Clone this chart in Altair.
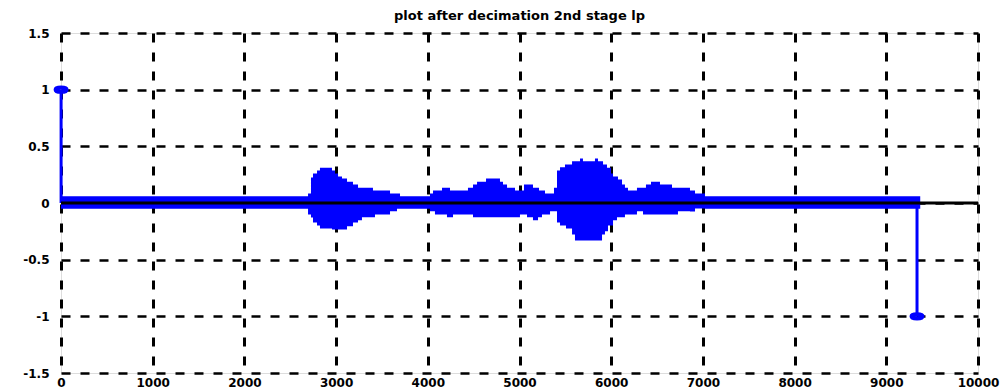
import altair as alt
import pandas as pd

# Peak envelope of the decimated signal (stem extent incl. markers), step-wise
env_x = [0, 2694, 2726, 2748, 2792, 2824, 2955, 2988, 3021, 3064, 3119, 3184, 3239,
         3282, 3402, 3424, 3588, 3664, 3697,
         4024, 4057, 4078, 4155, 4209, 4242, 4275, 4438, 4493, 4537, 4635, 4787,
         4820, 4864, 4951, 5005, 5049, 5082, 5147, 5202, 5213, 5245, 5278, 5333,
         5376, 5409, 5442, 5496, 5507, 5573, 5605, 5660, 5692, 5823, 5856, 5900,
         5911, 5932, 5954, 5965, 5998, 6020, 6063, 6074, 6118, 6150, 6183, 6281,
         6347, 6379, 6434, 6532, 6663, 6728, 6859, 6914, 6936, 7023, 9370]
env_hi = [0.06, 0.084, 0.225, 0.26, 0.287, 0.31, 0.287, 0.26, 0.234, 0.216, 0.187, 0.163, 0.134,
          0.134, 0.11, 0.11, 0.084, 0.084, 0.06,
          0.084, 0.11, 0.11, 0.134, 0.134, 0.11, 0.11, 0.134, 0.163, 0.187, 0.216, 0.187,
          0.163, 0.134, 0.11, 0.11, 0.163, 0.163, 0.134, 0.134, 0.11, 0.11, 0.084, 0.084,
          0.134, 0.287, 0.316, 0.34, 0.34, 0.369, 0.369, 0.393, 0.369, 0.393, 0.369, 0.369,
          0.34, 0.34, 0.31, 0.31, 0.26, 0.234, 0.234, 0.207, 0.163, 0.134, 0.11, 0.134,
          0.134, 0.163, 0.187, 0.163, 0.134, 0.134, 0.11, 0.084, 0.084, 0.06, 0.06]
env_lo = [-0.05, -0.101, -0.128, -0.172, -0.199, -0.225, -0.234, -0.234, -0.234, -0.234, -0.205, -0.172, -0.152,
          -0.125, -0.125, -0.101, -0.072, -0.05, -0.05,
          -0.072, -0.072, -0.101, -0.101, -0.125, -0.125, -0.101, -0.101, -0.125, -0.125, -0.125, -0.125,
          -0.125, -0.125, -0.125, -0.101, -0.101, -0.125, -0.152, -0.125, -0.125, -0.101, -0.101, -0.072,
          -0.072, -0.172, -0.199, -0.199, -0.225, -0.278, -0.331, -0.331, -0.331, -0.331, -0.331, -0.278,
          -0.278, -0.249, -0.249, -0.199, -0.199, -0.152, -0.125, -0.125, -0.125, -0.101, -0.101, -0.072,
          -0.101, -0.101, -0.101, -0.101, -0.101, -0.072, -0.075, -0.049, -0.049, -0.05, -0.05]

# The two large isolated samples
stem_x = [1, 9335]
stem_y = [1, -1]

x_ticks = list(range(0, 10001, 1000))
y_ticks = [-1.5, -1, -0.5, 0, 0.5, 1, 1.5]

BLUE = "#0000FF"
FONT = "DejaVu Sans"

env = pd.DataFrame({"n": env_x, "hi": env_hi, "lo": env_lo})
stems = pd.DataFrame({"n": stem_x, "v": stem_y, "base": [0, 0]})
zero = pd.DataFrame({"n": [0], "n2": [10000], "v": [0]})

xscale = alt.Scale(domain=[0, 10000], nice=False, zero=False)
yscale = alt.Scale(domain=[-1.5, 1.5], nice=False)

xaxis = alt.Axis(values=x_ticks, labelExpr="'' + datum.value", grid=True,
                 gridDash=[9, 10], gridWidth=3, gridColor="black", gridOpacity=1,
                 domain=False, ticks=False, labelPadding=4, title=None,
                 labelFont=FONT, labelFontSize=12, labelFontWeight="bold",
                 labelColor="black", labelFlush=False, labelOverlap=False)
yaxis = alt.Axis(values=y_ticks, labelExpr="'' + datum.value", grid=True,
                 gridDash=[9, 10], gridWidth=2.5, gridColor="black", gridOpacity=1,
                 domain=False, ticks=False, labelPadding=12, title=None,
                 labelFont=FONT, labelFontSize=12, labelFontWeight="bold",
                 labelColor="black", labelFlush=False, labelOverlap=False)

band = alt.Chart(env).mark_area(color=BLUE, interpolate="step-after", opacity=1).encode(
    x=alt.X("n:Q", scale=xscale, axis=xaxis),
    y=alt.Y("hi:Q", scale=yscale, axis=yaxis),
    y2="lo:Q",
)

stem_lines = alt.Chart(stems).mark_rule(color=BLUE, strokeWidth=3).encode(
    x="n:Q", y="v:Q", y2="base:Q"
)

# flattened circle marker at each stem tip
ellipse = "M-1,0A1,0.4,0,1,0,1,0A1,0.4,0,1,0,-1,0Z"
stem_heads = alt.Chart(stems).mark_point(
    shape=ellipse, size=121, filled=False, color=BLUE, strokeWidth=4, opacity=1
).encode(x="n:Q", y="v:Q")

baseline = alt.Chart(zero).mark_rule(color="black", strokeWidth=3).encode(
    x="n:Q", x2="n2:Q", y="v:Q"
)

chart = alt.layer(band, stem_lines, stem_heads, baseline).properties(
    width=917,
    height=340,
    padding={"left": 61, "top": 33, "right": 23, "bottom": 16},
    autosize=alt.AutoSizeParams(type="none"),
    title=alt.TitleParams("plot after decimation 2nd stage lp", font=FONT,
                          fontSize=13, fontWeight="bold", color="black",
                          offset=4, anchor="middle"),
).configure_view(
    stroke="black", strokeWidth=3
).configure(background="white")

chart.save("out.html", embed_options={"renderer": "svg", "actions": False})
